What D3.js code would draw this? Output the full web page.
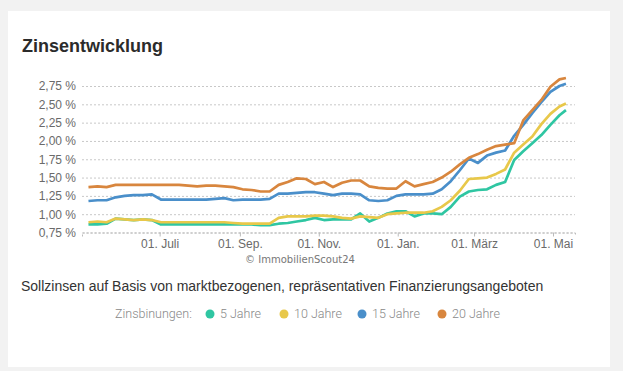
<!DOCTYPE html>
<html>
<head>
<meta charset="utf-8">
<script src="https://cdn.jsdelivr.net/npm/d3@7"></script>
<style>
    body { margin: 0; background: #f2f2f2; }
    #vis-container { width: 623px; height: 371px; }
</style>
</head>
<body>
<div id="vis-container"></div>
<script>
// Weekly dates (2021-05-07 .. 2022-05-11)
const dates = [
    "2021-05-07","2021-05-14","2021-05-21","2021-05-28","2021-06-04","2021-06-11","2021-06-18","2021-06-25",
    "2021-07-02","2021-07-09","2021-07-16","2021-07-23","2021-07-30","2021-08-06","2021-08-13","2021-08-20",
    "2021-08-27","2021-09-03","2021-09-10","2021-09-17","2021-09-24","2021-10-01","2021-10-08","2021-10-15",
    "2021-10-22","2021-10-29","2021-11-05","2021-11-12","2021-11-19","2021-11-26","2021-12-03","2021-12-10",
    "2021-12-17","2021-12-24","2021-12-31","2022-01-07","2022-01-14","2022-01-21","2022-01-28","2022-02-04",
    "2022-02-11","2022-02-18","2022-02-25","2022-03-04","2022-03-11","2022-03-18","2022-03-25","2022-04-01",
    "2022-04-08","2022-04-15","2022-04-22","2022-04-29","2022-05-06","2022-05-11"
];

// Zinsbindung 5 Jahre
const rates5 = [
    0.86,0.86,0.87,0.94,0.93,0.92,0.93,0.92,
    0.86,0.86,0.86,0.86,0.86,0.86,0.86,0.86,
    0.86,0.86,0.86,0.85,0.85,0.87,0.88,0.90,
    0.92,0.95,0.92,0.93,0.93,0.93,1.01,0.90,
    0.95,1.01,1.04,1.04,0.97,1.01,1.01,1.00,
    1.10,1.24,1.31,1.33,1.34,1.40,1.44,1.74,
    1.86,1.97,2.08,2.22,2.35,2.42
];

// Zinsbindung 10 Jahre
const rates10 = [
    0.89,0.90,0.89,0.94,0.93,0.92,0.93,0.92,
    0.89,0.89,0.89,0.89,0.89,0.89,0.89,0.89,
    0.88,0.87,0.87,0.87,0.87,0.95,0.97,0.97,
    0.97,0.98,0.98,0.97,0.95,0.94,0.97,0.96,
    0.95,1.00,1.01,1.02,1.02,1.02,1.04,1.10,
    1.19,1.32,1.48,1.49,1.50,1.55,1.61,1.84,
    1.95,2.06,2.23,2.37,2.47,2.51
];

// Zinsbindung 15 Jahre
const rates15 = [
    1.18,1.19,1.19,1.23,1.25,1.26,1.26,1.27,
    1.20,1.20,1.20,1.20,1.20,1.20,1.21,1.22,
    1.19,1.20,1.20,1.20,1.21,1.28,1.28,1.29,
    1.30,1.30,1.28,1.26,1.28,1.28,1.27,1.19,
    1.18,1.19,1.25,1.27,1.27,1.27,1.28,1.34,
    1.45,1.60,1.76,1.70,1.80,1.84,1.87,2.07,
    2.22,2.38,2.53,2.67,2.75,2.78
];

// Zinsbindung 20 Jahre
const rates20 = [
    1.37,1.38,1.37,1.40,1.40,1.40,1.40,1.40,
    1.40,1.40,1.40,1.39,1.38,1.39,1.39,1.38,
    1.37,1.34,1.33,1.31,1.31,1.40,1.44,1.49,
    1.48,1.41,1.44,1.37,1.43,1.46,1.46,1.38,
    1.36,1.35,1.35,1.45,1.38,1.41,1.44,1.50,
    1.58,1.68,1.77,1.82,1.88,1.93,1.95,1.97,
    2.28,2.42,2.56,2.74,2.84,2.86
];

// Axis ticks
const yTicks = [0.75, 1.00, 1.25, 1.50, 1.75, 2.00, 2.25, 2.50, 2.75];
const xTickDates = ["2021-07-01","2021-09-01","2021-11-01","2022-01-01","2022-03-01","2022-05-01"];
const xTickLabels = ["01. Juli","01. Sep.","01. Nov.","01. Jan.","01. März","01. Mai"];

// Legend
const seriesNames = ["5 Jahre","10 Jahre","15 Jahre","20 Jahre"];
const seriesColors = ["#2fc6a2","#e8c84a","#4a8fca","#d8863e"];

function main()
{
    const parseDate = d3.timeParse("%Y-%m-%d");
    const series = [rates5, rates10, rates15, rates20];

    // Plot box
    const plot = { left: 82, right: 575, top: 86, bottom: 232.5 };

    const svg = d3.select("#vis-container")
        .append("svg")
        .attr("width", 623)
        .attr("height", 371)
        .style("font-family", "'DejaVu Sans', sans-serif");

    // Page background and white card
    svg.append("rect").attr("width", 623).attr("height", 371).attr("fill", "#f2f2f2");
    svg.append("rect")
        .attr("x", 8).attr("y", 11)
        .attr("width", 602).attr("height", 356)
        .attr("fill", "#ffffff");

    // Title
    svg.append("text")
        .attr("x", 22).attr("y", 52)
        .attr("fill", "#2b2b2b")
        .style("font-family", "'Liberation Sans', Arial, sans-serif")
        .style("font-size", "18px")
        .style("font-weight", "bold")
        .text("Zinsentwicklung");

    // Scales
    const xScale = d3.scaleTime()
        .domain([parseDate("2021-05-02"), parseDate("2022-05-18")])
        .range([plot.left, plot.right]);

    const yScale = d3.scaleLinear()
        .domain([0.75, 2.75])
        .range([plot.bottom, plot.top]);

    // Y axis with dotted grid lines
    const yAxis = d3.axisLeft(yScale)
        .tickValues(yTicks)
        .tickSize(-(plot.right - plot.left))
        .tickPadding(6)
        .tickFormat(d => d.toFixed(2).replace(".", ",") + " %");

    const yG = svg.append("g")
        .attr("transform", `translate(${plot.left}, 0)`)
        .call(yAxis);
    yG.select(".domain").remove();
    yG.selectAll(".tick line")
        .attr("stroke", "#c8c8c8")
        .attr("stroke-dasharray", "2,2");
    yG.selectAll(".tick text")
        .attr("fill", "#6a6a6a")
        .style("font-size", "12px");

    // X axis
    const xAxis = d3.axisBottom(xScale)
        .tickValues(xTickDates.map(parseDate))
        .tickSize(4)
        .tickPadding(3)
        .tickFormat((_, i) => xTickLabels[i]);

    const xG = svg.append("g")
        .attr("transform", `translate(0, ${plot.bottom})`)
        .call(xAxis);
    xG.select(".domain")
        .attr("stroke", "#bbb")
        .attr("stroke-dasharray", "2,2");
    xG.selectAll(".tick line").attr("stroke", "#bbb");
    xG.selectAll(".tick text")
        .attr("fill", "#6a6a6a")
        .style("font-size", "12px");

    // Lines
    const line = d3.line()
        .x((_, i) => xScale(parseDate(dates[i])))
        .y(d => yScale(d));

    svg.append("g")
        .selectAll("path")
        .data(series)
        .enter()
        .append("path")
        .attr("d", d => line(d))
        .attr("fill", "none")
        .attr("stroke", (_, i) => seriesColors[i])
        .attr("stroke-width", 2.7)
        .attr("stroke-linejoin", "round");

    // Credit
    svg.append("text")
        .attr("x", 300).attr("y", 263)
        .attr("text-anchor", "middle")
        .attr("fill", "#777")
        .style("font-size", "10px")
        .text("© ImmobilienScout24");

    // Subtitle
    svg.append("text")
        .attr("x", 21).attr("y", 291)
        .attr("fill", "#333")
        .style("font-family", "'Liberation Sans', Arial, sans-serif")
        .style("font-size", "14px")
        .text("Sollzinsen auf Basis von marktbezogenen, repräsentativen Finanzierungsangeboten");

    // Legend
    const legend = svg.append("g")
        .style("font-family", "Roboto, sans-serif")
        .style("font-weight", 300)
        .style("font-size", "12.5px");

    legend.append("text")
        .attr("x", 115).attr("y", 318)
        .attr("fill", "#888")
        .text("Zinsbinungen:");

    const legendX = [210, 284, 362, 442];
    const items = legend.selectAll(".item")
        .data(seriesNames)
        .enter()
        .append("g")
        .attr("class", "item")
        .attr("transform", (_, i) => `translate(${legendX[i]}, 314)`);

    items.append("circle")
        .attr("r", 4.5)
        .attr("fill", (_, i) => seriesColors[i]);

    items.append("text")
        .attr("x", 10).attr("y", 4)
        .attr("fill", "#888")
        .text(d => d);
}

document.addEventListener("DOMContentLoaded", main);
</script>
</body>
</html>
